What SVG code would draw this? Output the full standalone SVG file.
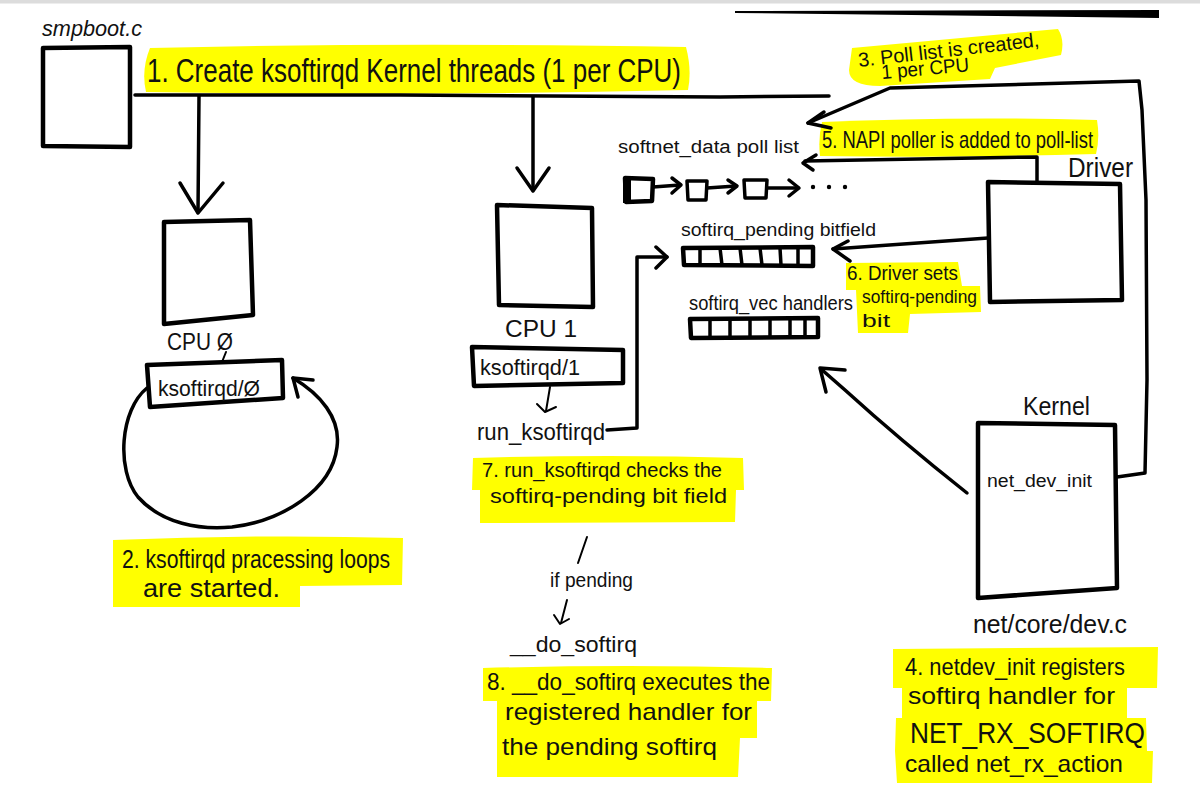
<svg xmlns="http://www.w3.org/2000/svg" width="1200" height="806" viewBox="0 0 1200 806">
<style>
.ln{fill:none;stroke:#000;stroke-width:3.5;stroke-linecap:round;stroke-linejoin:round}
.bx{fill:none;stroke:#000;stroke-width:4.5;stroke-linecap:round;stroke-linejoin:round}
.th{fill:none;stroke:#000;stroke-width:2;stroke-linecap:round;stroke-linejoin:round}
.hl{fill:#ffff00}
text{font-family:"Liberation Sans","DejaVu Sans",sans-serif;fill:#111}
</style>
<rect x="0" y="0" width="1200" height="806" fill="#ffffff"/>
<rect x="0" y="0" width="1200" height="3.5" fill="#dcdcdc"/>
<polygon points="735,11 1159,10 1159,18 735,13" fill="#000"/>

<g id="highlights">
<path class="hl" d="M150,48 Q400,42 686,47 Q692,70 688,90 Q420,96 146,92 Q141,70 150,48 Z"/>
<path class="hl" d="M852,48 L1058,29 Q1065,40 1061,55 L995,68 L990,79 L880,86 Q849,86 849,70 Z"/>
<path class="hl" d="M822,122 Q960,116 1097,120 Q1100,138 1096,154 Q960,158 820,156 Q818,138 822,122 Z"/>
<path class="hl" d="M846,263 L958,262 L962,286 L980,286 L981,312 L910,314 L908,333 L858,333 L856,290 L846,290 Z"/>
<path class="hl" d="M113,540 Q260,534 403,538 L402,585 L300,586 L300,607 L113,607 Z"/>
<path class="hl" d="M473,458 Q610,454 743,458 L744,490 L736,490 L735,522 L480,523 L480,490 L472,490 Z"/>
<path class="hl" d="M483,668 Q630,664 772,668 L771,701 L757,701 L757,738 L740,738 L738,777 L497,777 L497,701 L483,701 Z"/>
<path class="hl" d="M893,649 L1158,647 L1157,688 L1127,688 L1127,718 L1146,718 L1147,751 L1153,751 L1152,783 L897,783 L895,751 L896,718 L902,718 L902,688 L893,688 Z"/>
</g>

<g id="connectors">
<path class="ln" d="M135,95 L400,95 L720,97 L829,96"/>
<path class="ln" d="M199,96 L198,212"/>
<path class="ln" d="M180,183 L198,213 L223,183"/>
<path class="ln" d="M533,97 L533,190"/>
<path class="ln" d="M517,168 L533,191 L549,168"/>
<path class="ln" d="M1117,477 L1145,473 L1147,380 L1146,200 L1142,110 L1139,81 L890,88 L808,123"/>
<path class="ln" d="M824,112 L808,123 L831,128"/>
<path class="ln" d="M1037,182 L1037,157 L805,161"/>
<path class="ln" d="M816,155 L803,163 L813,170"/>
<path class="ln" d="M988,238 L833,249"/>
<path class="ln" d="M848,241 L833,249 L850,261"/>
<path class="ln" d="M607,430 L637,428 L637,257 L667,257"/>
<path class="ln" d="M656,247 L667,257 L656,268"/>
<path class="ln" d="M967,493 Q900,440 845,390 L821,369"/>
<path class="ln" d="M826,392 L820,368 L845,370"/>
<path class="ln" d="M147,388 C120,410 116,470 138,497 C162,524 200,530 232,527 C282,521 332,490 337,447 C341,418 320,394 293,378"/>
<path class="ln" d="M313,380 L293,378 L298,397"/>
<path class="th" d="M550,387 L546,411"/>
<path class="th" d="M537,404 L545,412 L556,407"/>
<path class="th" d="M587,537 L578,563"/>
<path class="th" d="M567,600 L561,623"/>
<path class="th" d="M554,615 L560,624 L569,619"/>
<path class="th" d="M226,352 L222,362"/>
</g>

<g id="smpboot">
<text x="42" y="36" font-size="22" textLength="100" lengthAdjust="spacingAndGlyphs" font-style="italic">smpboot.c</text>
<path class="bx" d="M43,48 L130,47 L130,147 L43,146 Z"/>
</g>
<g id="step1">
<text x="147" y="82" font-size="33" textLength="534" lengthAdjust="spacingAndGlyphs">1. Create ksoftirqd Kernel threads (1 per CPU)</text>
</g>

<g id="cpu0">
<path class="bx" d="M164,222 L250,220 L253,315 L164,324 Z"/>
<text x="167" y="350" font-size="24" textLength="66" lengthAdjust="spacingAndGlyphs">CPU Ø</text>
</g>
<g id="ksoftirqd0">
<path class="bx" d="M147,365 L282,360 L283,398 L150,407 Z"/>
<text x="158" y="396" font-size="22" textLength="102" lengthAdjust="spacingAndGlyphs">ksoftirqd/Ø</text>
</g>
<g id="step2">
<text x="122" y="568" font-size="26" textLength="268" lengthAdjust="spacingAndGlyphs">2. ksoftirqd pracessing loops</text>
<text x="143" y="597" font-size="26" textLength="137" lengthAdjust="spacingAndGlyphs">are started.</text>
</g>

<g id="cpu1">
<path class="bx" d="M497,205 L592,208 L593,307 L499,305 Z"/>
<text x="505" y="337" font-size="24" textLength="72" lengthAdjust="spacingAndGlyphs">CPU 1</text>
</g>
<g id="ksoftirqd1">
<path class="bx" d="M472,347 L623,350 L623,383 L474,386 Z"/>
<text x="480" y="375" font-size="22" textLength="100" lengthAdjust="spacingAndGlyphs">ksoftirqd/1</text>
</g>
<g id="run_ksoftirqd">
<text x="477" y="440" font-size="24" textLength="128" lengthAdjust="spacingAndGlyphs">run_ksoftirqd</text>
</g>
<g id="step7">
<text x="482" y="477" font-size="20" textLength="240" lengthAdjust="spacingAndGlyphs">7. run_ksoftirqd checks the</text>
<text x="490" y="503" font-size="20" textLength="237" lengthAdjust="spacingAndGlyphs">softirq-pending bit field</text>
</g>
<g id="ifpending">
<text x="550" y="587" font-size="20" textLength="83" lengthAdjust="spacingAndGlyphs">if pending</text>
</g>
<g id="do_softirq">
<text x="510" y="652" font-size="22" textLength="127" lengthAdjust="spacingAndGlyphs">__do_softirq</text>
</g>
<g id="step8">
<text x="487" y="690" font-size="24" textLength="283" lengthAdjust="spacingAndGlyphs">8. __do_softirq executes the</text>
<text x="505" y="720" font-size="24" textLength="247" lengthAdjust="spacingAndGlyphs">registered handler for</text>
<text x="502" y="755" font-size="24" textLength="215" lengthAdjust="spacingAndGlyphs">the pending softirq</text>
</g>

<g id="step3">
<text x="859" y="67" font-size="20" textLength="182" lengthAdjust="spacingAndGlyphs" transform="rotate(-6.5 859 67)">3. Poll list is created,</text>
<text x="882" y="79" font-size="20" textLength="88" lengthAdjust="spacingAndGlyphs" transform="rotate(-5 882 79)">1 per CPU</text>
</g>
<g id="pollist">
<text x="618" y="153" font-size="18" textLength="181" lengthAdjust="spacingAndGlyphs">softnet_data poll list</text>
<path class="bx" d="M625,178 L653,179 L652,201 L626,202 Z"/>
<rect x="623" y="178" width="8" height="25" fill="#000"/>
<path class="ln" d="M687,181 L707,181 L706,200 L688,200 Z"/>
<path class="ln" d="M744,180 L767,180 L766,198 L745,198 Z"/>
<path class="ln" d="M653,187 L680,185"/>
<path class="ln" d="M672,178 L681,185 L672,193"/>
<path class="ln" d="M707,188 L736,186"/>
<path class="ln" d="M728,180 L737,186 L728,193"/>
<path class="ln" d="M767,188 L798,188"/>
<path class="ln" d="M789,180 L799,188 L789,196"/>
<circle cx="813" cy="187" r="2.2" fill="#000"/>
<circle cx="829" cy="187" r="2.2" fill="#000"/>
<circle cx="845" cy="187" r="2.2" fill="#000"/>
</g>
<g id="step5">
<text x="822" y="148" font-size="24" textLength="271" lengthAdjust="spacingAndGlyphs">5. NAPI poller is added to poll-list</text>
</g>
<g id="bitfield">
<text x="681" y="236" font-size="18" textLength="195" lengthAdjust="spacingAndGlyphs">softirq_pending bitfield</text>
<path class="bx" d="M683,248 L813,247 L813,266 L684,265 Z"/>
<path class="ln" d="M700,248 L700,265 M720,248 L722,265 M740,248 L742,265 M760,248 L762,265 M780,248 L781,265 M798,248 L798,265"/>
</g>
<g id="vec">
<text x="689" y="310" font-size="20" textLength="164" lengthAdjust="spacingAndGlyphs">softirq_vec handlers</text>
<path class="bx" d="M690,319 L818,318 L818,337 L691,338 Z"/>
<path class="ln" d="M710,319 L710,337 M730,319 L730,337 M750,319 L750,337 M770,319 L770,337 M790,319 L790,337 M805,319 L805,337"/>
</g>
<g id="driver">
<text x="1068" y="177" font-size="28" textLength="65" lengthAdjust="spacingAndGlyphs">Driver</text>
<path class="bx" d="M988,182 L1120,184 L1122,300 L990,302 Z"/>
</g>
<g id="step6">
<text x="847" y="280" font-size="20" textLength="111" lengthAdjust="spacingAndGlyphs">6. Driver sets</text>
<text x="862" y="303" font-size="18" textLength="115" lengthAdjust="spacingAndGlyphs">softirq-pending</text>
<text x="862" y="327" font-size="18" textLength="28" lengthAdjust="spacingAndGlyphs">bit</text>
</g>
<g id="kernel">
<text x="1023" y="415" font-size="26" textLength="67" lengthAdjust="spacingAndGlyphs">Kernel</text>
<path class="bx" d="M978,423 L1115,425 L1117,588 L978,598 Z"/>
<text x="987" y="487" font-size="18" textLength="105" lengthAdjust="spacingAndGlyphs">net_dev_init</text>
<text x="973" y="633" font-size="26" textLength="154" lengthAdjust="spacingAndGlyphs">net/core/dev.c</text>
</g>
<g id="step4">
<text x="905" y="675" font-size="24" textLength="220" lengthAdjust="spacingAndGlyphs">4. netdev_init registers</text>
<text x="908" y="704" font-size="24" textLength="207" lengthAdjust="spacingAndGlyphs">softirq handler for</text>
<text x="910" y="743" font-size="30" textLength="235" lengthAdjust="spacingAndGlyphs">NET_RX_SOFTIRQ</text>
<text x="905" y="772" font-size="24" textLength="218" lengthAdjust="spacingAndGlyphs">called net_rx_action</text>
</g>
</svg>
